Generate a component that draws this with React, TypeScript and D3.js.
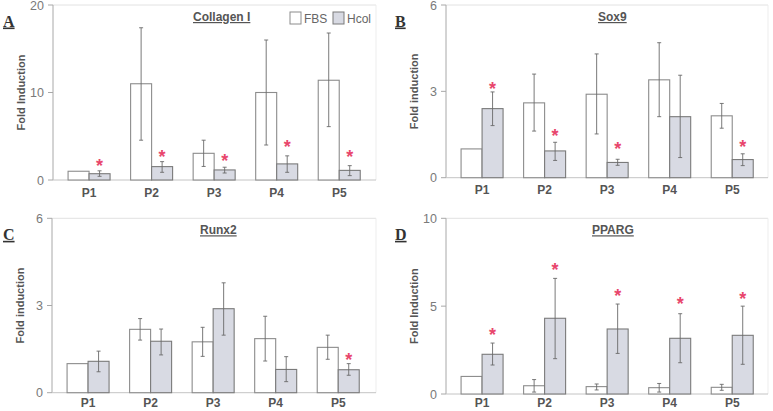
import React from "react";
import * as d3 from "d3";

const categories = ["P1", "P2", "P3", "P4", "P5"];

// Panel A: Collagen I
const colFBS = [1.0, 11.0, 3.05, 10.0, 11.4];
const colFBSLo = [null, 4.55, 1.55, 4.0, 6.1];
const colFBSHi = [null, 17.4, 4.55, 16.0, 16.8];
const colHcol = [0.72, 1.53, 1.15, 1.84, 1.1];
const colHcolLo = [0.42, 0.88, 0.8, 0.88, 0.5];
const colHcolHi = [1.05, 2.1, 1.46, 2.76, 1.64];
const colStars = [2.06, 3.09, 2.66, 4.23, 3.12];
const colTicks = [0, 10, 20];

// Panel B: Sox9
const soxFBS = [1.0, 2.6, 2.9, 3.4, 2.15];
const soxFBSLo = [null, 1.62, 1.52, 2.12, 1.72];
const soxFBSHi = [null, 3.6, 4.3, 4.69, 2.58];
const soxHcol = [2.4, 0.93, 0.53, 2.12, 0.63];
const soxHcolLo = [1.81, 0.6, 0.43, 0.7, 0.42];
const soxHcolHi = [2.98, 1.23, 0.64, 3.56, 0.83];
const soxStars = [3.22, 1.6, 1.14, null, 1.2];
const soxTicks = [0, 3, 6];

// Panel C: Runx2
const runFBS = [1.0, 2.18, 1.75, 1.86, 1.56];
const runFBSLo = [null, 1.81, 1.25, 1.09, 1.15];
const runFBSHi = [null, 2.55, 2.25, 2.63, 1.98];
const runHcol = [1.08, 1.77, 2.89, 0.8, 0.79];
const runHcolLo = [0.72, 1.3, 1.98, 0.38, 0.6];
const runHcolHi = [1.43, 2.19, 3.78, 1.24, 1.0];
const runStars = [null, null, null, null, 1.27];
const runTicks = [0, 3, 6];

// Panel D: PPARG
const ppFBS = [1.0, 0.47, 0.42, 0.36, 0.38];
const ppFBSLo = [null, 0.11, 0.23, 0.11, 0.21];
const ppFBSHi = [null, 0.82, 0.57, 0.6, 0.55];
const ppHcol = [2.26, 4.31, 3.7, 3.17, 3.34];
const ppHcolLo = [1.65, 2.01, 2.31, 1.78, 1.69];
const ppHcolHi = [2.9, 6.58, 5.12, 4.57, 5.0];
const ppStars = [3.59, 7.29, 5.82, 5.35, 5.63];
const ppTicks = [0, 5, 10];

const seriesNames = ["FBS", "Hcol"];

const SANS = "'Liberation Sans', Arial, Helvetica, sans-serif";
const SERIF = "'Liberation Serif', 'Times New Roman', serif";
const FBS_FILL = "#ffffff";
const FBS_STROKE = "#8c8c8c";
const HCOL_FILL = "#d8dae3";
const HCOL_STROKE = "#7a7a7a";
const STAR = "#e8466c";
const TEXT = "#555";

type Panel = {
  letter: string;
  title: string;
  ylabel: string;
  axisX: number;
  right: number;
  yTop: number;
  yBottom: number;
  titleX: number;
  letterX: number;
  ticks: number[];
  fbs: number[];
  fbsLo: (number | null)[];
  fbsHi: (number | null)[];
  hcol: number[];
  hcolLo: number[];
  hcolHi: number[];
  stars: (number | null)[];
  legend?: boolean;
};

const panels: Panel[] = [
  { letter: "A", title: "Collagen I", ylabel: "Fold Induction", axisX: 53, right: 376, yTop: 5, yBottom: 180, titleX: 193, letterX: 3, ticks: colTicks, fbs: colFBS, fbsLo: colFBSLo, fbsHi: colFBSHi, hcol: colHcol, hcolLo: colHcolLo, hcolHi: colHcolHi, stars: colStars, legend: true },
  { letter: "B", title: "Sox9", ylabel: "Fold induction", axisX: 446, right: 768, yTop: 5, yBottom: 177.7, titleX: 598, letterX: 395, ticks: soxTicks, fbs: soxFBS, fbsLo: soxFBSLo, fbsHi: soxFBSHi, hcol: soxHcol, hcolLo: soxHcolLo, hcolHi: soxHcolHi, stars: soxStars },
  { letter: "C", title: "Runx2", ylabel: "Fold induction", axisX: 52, right: 376, yTop: 218.3, yBottom: 392.7, titleX: 200, letterX: 3, ticks: runTicks, fbs: runFBS, fbsLo: runFBSLo, fbsHi: runFBSHi, hcol: runHcol, hcolLo: runHcolLo, hcolHi: runHcolHi, stars: runStars },
  { letter: "D", title: "PPARG", ylabel: "Fold Induction", axisX: 446, right: 768, yTop: 218.3, yBottom: 394, titleX: 592, letterX: 395, ticks: ppTicks, fbs: ppFBS, fbsLo: ppFBSLo, fbsHi: ppFBSHi, hcol: ppHcol, hcolLo: ppHcolLo, hcolHi: ppHcolHi, stars: ppStars },
];

const BAR_W = 21;

function ErrorBar({ x, y1, y2 }: { x: number; y1: number; y2: number }) {
  return (
    <g stroke="#6a6a6a" strokeWidth={0.9}>
      <line x1={x} x2={x} y1={y1} y2={y2} />
      <line x1={x - 2} x2={x + 2} y1={y1} y2={y1} />
      <line x1={x - 2} x2={x + 2} y1={y2} y2={y2} />
    </g>
  );
}

function PanelView({ p }: { p: Panel }) {
  const maxV = p.ticks[p.ticks.length - 1];
  const y = d3.scaleLinear().domain([0, maxV]).range([p.yBottom, p.yTop]);
  const x = d3.scalePoint<string>().domain(categories).range([p.axisX + 4.8, p.axisX + 317.5]).padding(0.5);
  const midY = (p.yTop + p.yBottom) / 2;
  const labelY = Math.min(p.yBottom + 16.5, 406.5);
  return (
    <g>
      {/* frame */}
      <line x1={p.axisX} x2={p.right} y1={p.yTop} y2={p.yTop} stroke="#e2e2e2" strokeWidth={1} />
      <line x1={p.right} x2={p.right} y1={p.yTop} y2={p.yBottom} stroke="#ededed" strokeWidth={1} />
      {/* y axis */}
      <line x1={p.axisX} x2={p.axisX} y1={p.yTop} y2={p.yBottom} stroke="#a8a8a8" strokeWidth={1} />
      {p.ticks.map((t) => (
        <g key={t}>
          <line x1={p.axisX - 5} x2={p.axisX} y1={y(t)} y2={y(t)} stroke="#a8a8a8" />
          <text x={p.axisX - 9} y={y(t) + 4.5} textAnchor="end" fontFamily={SANS} fontSize={12.5} fill="#7a7a7a">
            {t}
          </text>
        </g>
      ))}
      {/* x axis */}
      <line x1={p.axisX} x2={p.right} y1={p.yBottom} y2={p.yBottom} stroke="#c4c4c4" strokeWidth={1} />
      {/* y label */}
      <text
        transform={`translate(${p.axisX - 28},${midY}) rotate(-90)`}
        textAnchor="middle"
        fontFamily={SANS}
        fontWeight="bold"
        fontSize={11}
        fill={TEXT}
      >
        {p.ylabel}
      </text>
      {/* bars */}
      {categories.map((c, i) => {
        const cx = x(c) as number;
        const fLo = p.fbsLo[i];
        const fHi = p.fbsHi[i];
        const star = p.stars[i];
        return (
          <g key={c}>
            <rect x={cx - BAR_W} y={y(p.fbs[i])} width={BAR_W} height={p.yBottom - y(p.fbs[i])} fill={FBS_FILL} stroke={FBS_STROKE} strokeWidth={1.1} />
            <rect x={cx} y={y(p.hcol[i])} width={BAR_W} height={p.yBottom - y(p.hcol[i])} fill={HCOL_FILL} stroke={HCOL_STROKE} strokeWidth={1.1} />
            {fLo != null && fHi != null && <ErrorBar x={cx - BAR_W / 2} y1={y(fHi)} y2={y(fLo)} />}
            <ErrorBar x={cx + BAR_W / 2} y1={y(p.hcolHi[i])} y2={y(p.hcolLo[i])} />
            {star != null && (
              <text x={cx + BAR_W / 2} y={y(star) + 10} textAnchor="middle" fontFamily={SANS} fontWeight="bold" fontSize={18} fill={STAR}>
                *
              </text>
            )}
            <text x={cx} y={labelY} textAnchor="middle" fontFamily={SANS} fontWeight="bold" fontSize={12} fill={TEXT}>
              {c}
            </text>
          </g>
        );
      })}
      {/* title */}
      <text x={p.titleX} y={p.yTop + 16} fontFamily={SANS} fontWeight="bold" fontSize={12} fill={TEXT} textDecoration="underline">
        {p.title}
      </text>
      {/* panel letter */}
      <text x={p.letterX} y={p.yTop + 21.5} fontFamily={SERIF} fontWeight="bold" fontSize={16} fill="#333" textDecoration="underline">
        {p.letter}
      </text>
      {p.legend && (
        <g>
          {seriesNames.map((s, k) => {
            const lx = k === 0 ? 290 : 333;
            return (
              <g key={s}>
                <rect x={lx} y={p.yTop + 7} width={11} height={12} fill={k === 0 ? FBS_FILL : HCOL_FILL} stroke={k === 0 ? FBS_STROKE : HCOL_STROKE} strokeWidth={1} />
                <text x={lx + 14} y={p.yTop + 17.5} fontFamily={SANS} fontSize={12} fill="#666">
                  {s}
                </text>
              </g>
            );
          })}
        </g>
      )}
    </g>
  );
}

export default function App() {
  return (
    <svg width={773} height={411} style={{ position: "absolute", left: 0, top: 0, background: "#fff" }}>
      <rect width={773} height={411} fill="#fff" />
      {panels.map((p) => (
        <PanelView key={p.letter} p={p} />
      ))}
    </svg>
  );
}
